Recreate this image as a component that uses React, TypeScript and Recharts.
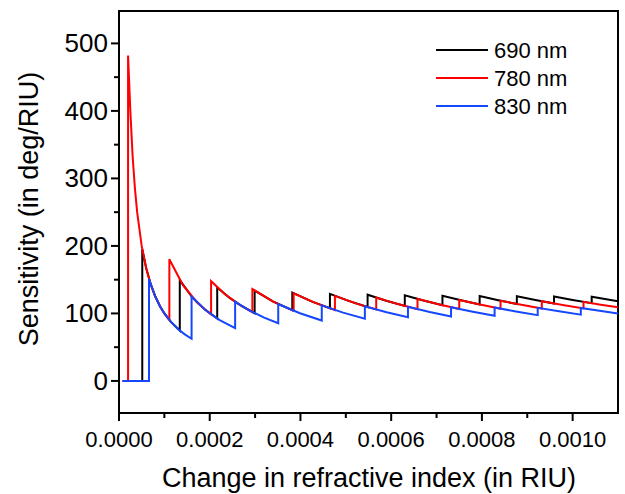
import { LineChart, Line, XAxis, YAxis, Legend, Label, ReferenceArea } from 'recharts';

// [change in refractive index (RIU), sensitivity (deg/RIU)]
const pts690: [number, number][] = [
  [0.000008, 0], [0.0000513, 0], [0.0000513, 195], [0.00006, 167], [0.00007, 143], [0.00008, 125],
  [0.00009, 111], [0.0001, 100], [0.000115, 87], [0.000134, 74.6],
  [0.000134, 149.3], [0.000162, 123.5], [0.00019, 105.3], [0.0002165, 92.4],
  [0.0002165, 138.6], [0.000244, 123.0], [0.000271, 110.7], [0.000299, 100.3],
  [0.000299, 133.8], [0.00034, 117.6], [0.000382, 104.7],
  [0.000382, 130.9], [0.000423, 118.2], [0.000465, 107.5],
  [0.000465, 129.0], [0.000506, 118.6], [0.000548, 109.5],
  [0.000548, 127.7], [0.000589, 118.8], [0.00063, 111.1],
  [0.00063, 127.0], [0.000671, 119.2], [0.000713, 112.2],
  [0.000713, 126.2], [0.000754, 119.4], [0.000795, 113.2],
  [0.000795, 125.8], [0.000836, 119.6], [0.000877, 114.0],
  [0.000877, 125.4], [0.000918, 119.8], [0.000959, 114.7],
  [0.000959, 125.1], [0.001, 120], [0.001042, 115.2],
  [0.001042, 124.8], [0.0011, 118.2],
];

const pts780: [number, number][] = [
  [0.000008, 0], [0.00002, 0], [0.00002, 482], [0.000025, 400], [0.00003, 333], [0.000035, 286],
  [0.00004, 250], [0.00005, 200], [0.00006, 167], [0.00007, 143], [0.00008, 125], [0.00009, 111],
  [0.0001, 100], [0.000111, 90.1],
  [0.000111, 180.2], [0.000141, 141.8], [0.000172, 116.3], [0.000203, 98.5],
  [0.000203, 147.8], [0.000233, 128.8], [0.000263, 114.1], [0.000294, 102.0],
  [0.000294, 136.1], [0.00034, 117.6], [0.000385, 103.9],
  [0.000385, 129.9], [0.00043, 116.3], [0.000476, 105.0],
  [0.000476, 126.1], [0.000522, 114.9], [0.000567, 105.8],
  [0.000567, 123.5], [0.000613, 114.2], [0.000658, 106.4],
  [0.000658, 121.6], [0.000704, 113.6], [0.00075, 106.7],
  [0.00075, 120], [0.000796, 113.1], [0.000841, 107.0],
  [0.000841, 118.9], [0.000887, 112.7], [0.000932, 107.3],
  [0.000932, 118.0], [0.000978, 112.5], [0.001024, 107.4],
  [0.001024, 117.2], [0.001062, 113.0], [0.0011, 109.1],
];

const pts830: [number, number][] = [
  [0.000008, 0], [0.0000661, 0], [0.0000661, 151], [0.00008, 125], [0.00009, 111], [0.0001, 100],
  [0.000115, 87], [0.00013, 76.9], [0.000145, 69.0], [0.00016, 62.5],
  [0.00016, 125], [0.00019, 105.3], [0.000222, 90.1], [0.000256, 78.1],
  [0.000256, 117.2], [0.000287, 104.5], [0.00032, 93.8], [0.000351, 85.5],
  [0.000351, 114.0], [0.000399, 100.3], [0.000447, 89.5],
  [0.000447, 111.9], [0.000494, 101.2], [0.000542, 92.3],
  [0.000542, 110.7], [0.00059, 101.7], [0.000637, 94.2],
  [0.000637, 109.9], [0.000685, 102.2], [0.000732, 95.6],
  [0.000732, 109.3], [0.00078, 102.6], [0.000828, 96.6],
  [0.000828, 108.7], [0.000875, 102.9], [0.000923, 97.5],
  [0.000923, 108.3], [0.00097, 103.1], [0.001018, 98.2],
  [0.001018, 108.1], [0.0011, 100],
];

const xTicks = [0, 0.0001, 0.0002, 0.0003, 0.0004, 0.0005, 0.0006, 0.0007, 0.0008, 0.0009, 0.001];
const yTicks = [0, 50, 100, 150, 200, 250, 300, 350, 400, 450, 500];

const X_DOMAIN: [number, number] = [0, 0.0011];
const Y_DOMAIN: [number, number] = [-47.5, 548];

const SERIES = [
  { name: '690 nm', color: '#000000', pts: pts690 },
  { name: '780 nm', color: '#ff0000', pts: pts780 },
  { name: '830 nm', color: '#1547ff', pts: pts830 },
];

const FONT = '"Liberation Sans", Arial, sans-serif';

const toRows = (pts: [number, number][]) => pts.map(([n, s]) => ({ n, s }));

function XTick({ x, y, payload }: any) {
  const v = payload.value as number;
  const major = Math.round(v * 10000) % 2 === 0;
  return (
    <g>
      <line x1={x} x2={x} y1={y} y2={y + (major ? 8 : 5)} stroke="#000" strokeWidth={2} />
      {major && (
        <text x={x} y={y + 34} textAnchor="middle" fontSize={22} fontFamily={FONT} fill="#000">
          {v.toFixed(4)}
        </text>
      )}
    </g>
  );
}

function YTick({ x, y, payload }: any) {
  const v = payload.value as number;
  const major = v % 100 === 0;
  return (
    <g>
      <line x1={x - (major ? 8 : 5)} x2={x} y1={y} y2={y} stroke="#000" strokeWidth={2} />
      {major && (
        <text x={x - 11} y={y} textAnchor="end" dominantBaseline="central" fontSize={26} fontFamily={FONT} fill="#000">
          {v}
        </text>
      )}
    </g>
  );
}

function LegendBox() {
  return (
    <svg width={150} height={86}>
      {SERIES.map((s, i) => (
        <g key={s.name}>
          <line x1={6} x2={58} y1={14 + i * 28} y2={14 + i * 28} stroke={s.color} strokeWidth={2} />
          <text x={64} y={14 + i * 28} dominantBaseline="central" fontSize={22} fontFamily={FONT} fill="#000">
            {s.name}
          </text>
        </g>
      ))}
    </svg>
  );
}

export default function App() {
  return (
    <div style={{ width: 625, height: 494, background: '#fff' }}>
      <style>{'body{margin:0}'}</style>
      <LineChart width={625} height={494} margin={{ top: 11, right: 7, left: 0, bottom: 0 }}>
        <XAxis
          dataKey="n"
          type="number"
          domain={X_DOMAIN}
          ticks={xTicks}
          tick={<XTick />}
          tickLine={false}
          tickSize={0}
          tickMargin={0}
          height={81}
          axisLine={{ stroke: '#000', strokeWidth: 2 }}
          interval={0}
          allowDataOverflow
        >
          <Label
            content={() => (
              <text x={369} y={478} textAnchor="middle" dominantBaseline="central" fontSize={27} fontFamily={FONT} fill="#000">
                Change in refractive index (in RIU)
              </text>
            )}
          />
        </XAxis>
        <YAxis
          type="number"
          domain={Y_DOMAIN}
          ticks={yTicks}
          tick={<YTick />}
          tickLine={false}
          tickSize={0}
          tickMargin={0}
          width={119}
          axisLine={{ stroke: '#000', strokeWidth: 2 }}
          interval={0}
          allowDataOverflow
        >
          <Label
            content={() => (
              <text
                x={29}
                y={209}
                transform="rotate(-90, 29, 209)"
                textAnchor="middle"
                dominantBaseline="central"
                fontSize={27}
                fontFamily={FONT}
                fill="#000"
              >
                Sensitivity (in deg/RIU)
              </text>
            )}
          />
        </YAxis>
        {/* plot frame (top and right edges) */}
        <ReferenceArea
          x1={X_DOMAIN[0]}
          x2={X_DOMAIN[1]}
          y1={Y_DOMAIN[0]}
          y2={Y_DOMAIN[1]}
          fill="none"
          fillOpacity={0}
          stroke="#000"
          strokeWidth={2}
          ifOverflow="visible"
        />
        <Legend
          layout="vertical"
          align="center"
          verticalAlign="middle"
          content={() => <LegendBox />}
          wrapperStyle={{ position: 'absolute', left: 430, top: 36, width: 150, height: 86 }}
        />
        {SERIES.map((s) => (
          <Line
            key={s.name}
            data={toRows(s.pts)}
            dataKey="s"
            name={s.name}
            type="linear"
            stroke={s.color}
            strokeWidth={2}
            dot={false}
            activeDot={false}
            isAnimationActive={false}
          />
        ))}
      </LineChart>
    </div>
  );
}
